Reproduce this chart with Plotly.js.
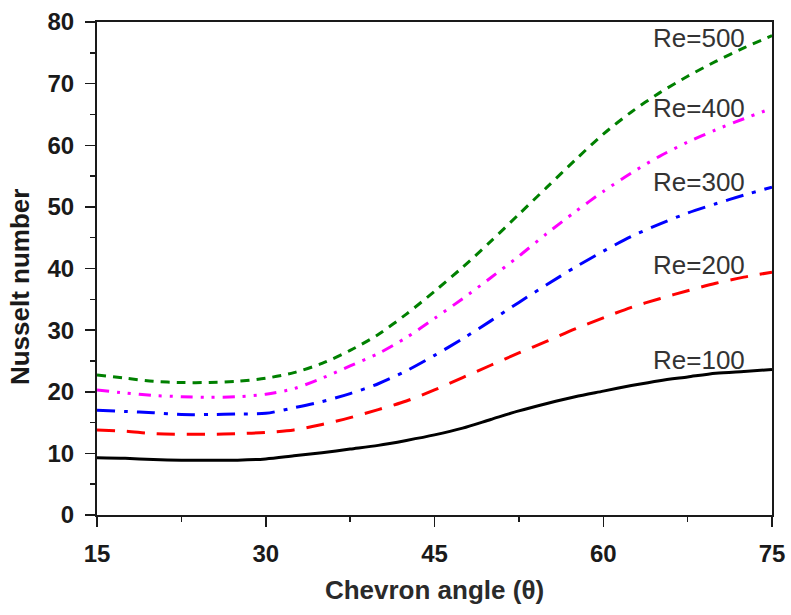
<!DOCTYPE html>
<html>
<head>
<meta charset="utf-8">
<script src="https://cdn.plot.ly/plotly-3.0.1.min.js"></script>
<style>
  html, body { margin: 0; padding: 0; background: #ffffff; }
  #chart { width: 791px; height: 615px; }
</style>
</head>
<body>
<div id="chart"></div>
<script>
// Chevron angle (degrees)
const theta = [15, 17.5, 20, 22.5, 25, 27.5, 30, 32.5, 35, 37.5, 40, 42.5, 45,
               47.5, 50, 52.5, 55, 57.5, 60, 62.5, 65, 67.5, 70, 72.5, 75];

// Nusselt number for each Reynolds number
const nuRe100 = [9.3, 9.2, 9.0, 8.9, 8.9, 8.9, 9.1, 9.6, 10.1, 10.7, 11.3, 12.1, 13.0,
                 14.1, 15.5, 16.9, 18.1, 19.2, 20.1, 21.0, 21.8, 22.4, 23.0, 23.3, 23.6];
const nuRe200 = [13.8, 13.6, 13.2, 13.1, 13.1, 13.2, 13.4, 13.8, 14.7, 15.8, 17.1, 18.5, 20.3,
                 22.3, 24.3, 26.3, 28.2, 30.2, 32.0, 33.7, 35.1, 36.4, 37.6, 38.6, 39.4];
const nuRe300 = [17.0, 16.8, 16.6, 16.3, 16.3, 16.4, 16.5, 17.4, 18.4, 19.7, 21.3, 23.4, 25.9,
                 28.6, 31.5, 34.5, 37.4, 40.2, 42.8, 45.2, 47.2, 49.0, 50.5, 51.9, 53.2];
const nuRe400 = [20.3, 19.8, 19.4, 19.2, 19.1, 19.2, 19.6, 20.5, 22.2, 24.2, 26.2, 28.8, 31.9,
                 35.1, 38.5, 42.0, 45.7, 49.2, 52.5, 55.5, 58.2, 60.5, 62.5, 64.3, 66.0];
const nuRe500 = [22.7, 22.2, 21.7, 21.5, 21.5, 21.7, 22.2, 23.1, 24.6, 26.7, 29.3, 32.6, 36.3,
                 40.2, 44.4, 48.8, 53.2, 57.6, 61.8, 65.4, 68.5, 71.2, 73.6, 75.8, 77.8];

const seriesNames = ['Re=100', 'Re=200', 'Re=300', 'Re=400', 'Re=500'];
const seriesValues = [nuRe100, nuRe200, nuRe300, nuRe400, nuRe500];
const seriesColors = ['#000000', '#ff0000', '#0000ff', '#ff00ff', '#008000'];
const seriesDashes = ['solid', '18px,12px', '18px,9px,4px,9px',
                      '12px,8px,3px,8px,3px,8px', '9px,7px'];

// In-plot curve labels (x anchor on the right, y in Nusselt units)
const labelX = 72.8;
const labelY = [25.2, 40.6, 54.0, 66.1, 77.4];

const traces = seriesNames.map((name, i) => ({
  type: 'scatter',
  mode: 'lines',
  name: name,
  x: theta,
  y: seriesValues[i],
  line: { color: seriesColors[i], width: 3, dash: seriesDashes[i], shape: 'spline', smoothing: 0.8 },
  showlegend: false,
  hoverinfo: 'x+y+name'
}));

const curveLabels = seriesNames.map((name, i) => ({
  x: labelX, y: labelY[i], xref: 'x', yref: 'y',
  text: name, showarrow: false, xanchor: 'right', yanchor: 'middle',
  font: { family: 'Liberation Sans, Arial, sans-serif', size: 26, color: '#333333' }
}));

const axisCommon = {
  showgrid: false,
  zeroline: false,
  showline: true,
  linecolor: '#1a1a1a',
  linewidth: 2,
  mirror: true,
  ticks: 'outside',
  ticklen: 10,
  tickwidth: 1.5,
  tickcolor: '#1a1a1a',
  tickfont: { family: 'Liberation Sans, Arial, sans-serif', size: 24, color: '#1a1a1a', weight: 'bold' }
};

const layout = {
  width: 791,
  height: 615,
  margin: { l: 97, r: 19, t: 22, b: 100 },
  paper_bgcolor: '#ffffff',
  plot_bgcolor: '#ffffff',
  xaxis: Object.assign({}, axisCommon, {
    range: [15, 75],
    tickmode: 'array',
    tickvals: [15, 30, 45, 60, 75],
    ticklabelstandoff: 6,
    minor: { ticks: 'outside', ticklen: 5, tickwidth: 1.5, tickcolor: '#1a1a1a', dtick: 7.5, tick0: 15, showgrid: false },
    title: {
      text: 'Chevron angle (θ)',
      font: { family: 'Liberation Sans, Arial, sans-serif', size: 26, color: '#2a2a2a', weight: 'bold' },
      standoff: 15
    }
  }),
  yaxis: Object.assign({}, axisCommon, {
    range: [0, 80],
    tickmode: 'array',
    tickvals: [0, 10, 20, 30, 40, 50, 60, 70, 80],
    ticklabelstandoff: 6,
    minor: { ticks: 'outside', ticklen: 5, tickwidth: 1.5, tickcolor: '#1a1a1a', dtick: 5, tick0: 0, showgrid: false }
  }),
  annotations: curveLabels.concat([{
    x: -0.114, y: 0.4625, xref: 'paper', yref: 'paper',
    text: 'Nusselt number', showarrow: false, textangle: -90,
    xanchor: 'center', yanchor: 'middle',
    font: { family: 'Liberation Sans, Arial, sans-serif', size: 26, color: '#1a1a1a', weight: 'bold' }
  }]),
  showlegend: false
};

Plotly.newPlot('chart', traces, layout, { displayModeBar: false, staticPlot: true });
</script>
</body>
</html>
